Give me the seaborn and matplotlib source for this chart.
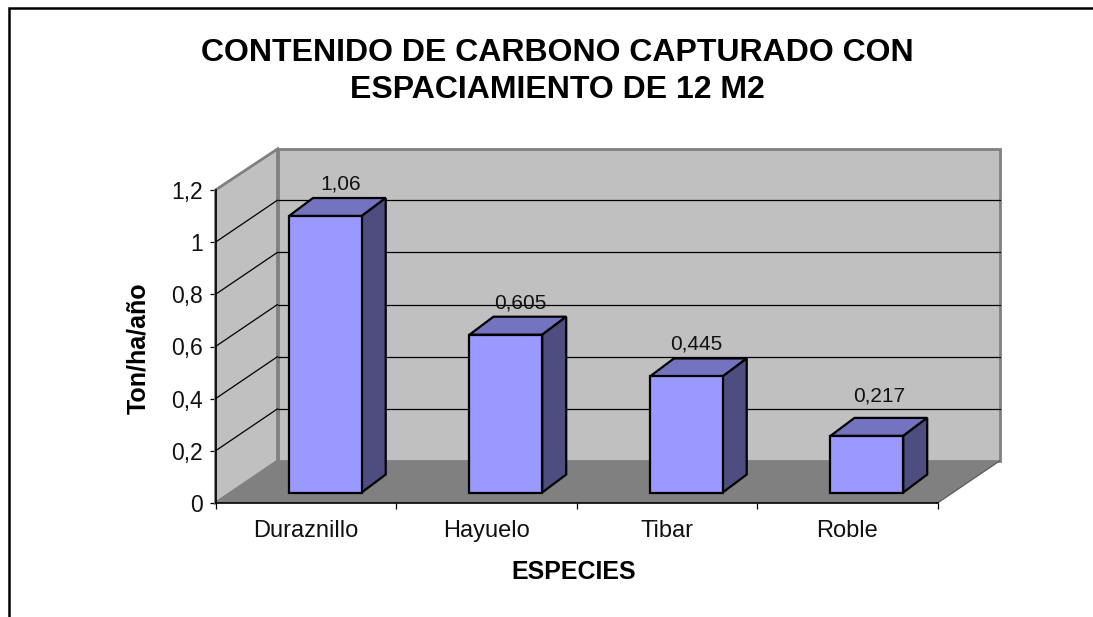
import matplotlib
matplotlib.use("Agg")
import matplotlib.pyplot as plt
from matplotlib.lines import Line2D
from matplotlib.patches import Polygon
from matplotlib.transforms import Affine2D, IdentityTransform
import seaborn as sns

# Data
species = ["Duraznillo", "Hayuelo", "Tibar", "Roble"]
carbon = [1.06, 0.605, 0.445, 0.217]
value_labels = ["1,06", "0,605", "0,445", "0,217"]
y_ticks = [0, 0.2, 0.4, 0.6, 0.8, 1.0, 1.2]
y_tick_labels = ["0", "0,2", "0,4", "0,6", "0,8", "1", "1,2"]
title = "CONTENIDO DE CARBONO CAPTURADO CON\nESPACIAMIENTO DE 12 M2"
x_label = "ESPECIES"
y_label = "Ton/ha/año"

# Style
W, H = 1093, 617
FACE, TOP, SIDE = "#9999FF", "#7373BF", "#4D4D80"
WALL, FLOOR = "#C0C0C0", "#808080"
DEPTH = (62, 42)            # chart depth, pixels
BAR_SHIFT = (19.6, 10.5)    # bar front face from front plane, pixels
BAR_DEPTH = (24, 18)        # bar depth, pixels
LABEL_SHIFT = [(15, 32), (14, 32), (10, 32), (12, 40)]

sns.set_style("white")
plt.rcParams["font.family"] = ["Liberation Sans", "DejaVu Sans"]

fig = plt.figure(figsize=(W / 100, H / 100), dpi=100, facecolor="white")
x0, x1, y_base, y_top = 215.5, 937.5, 503.0, 190.0
ax = fig.add_axes([x0 / W, 1 - y_base / H, (x1 - x0) / W, (y_base - y_top) / H])
ax.patch.set_visible(False)

sns.barplot(x=species, y=carbon, color=FACE, saturation=1, width=0.403,
            edgecolor="black", linewidth=1.6, ax=ax, zorder=5)
ax.set_xlim(-0.5, 3.5)
ax.set_ylim(0, 1.2)
fig.canvas.draw()

px = IdentityTransform()


def pt(x, y, dx=0, dy=0):
    a, b = ax.transData.transform((x, y))
    return (a + dx, b + dy)


def poly(points, fc, ec="none", lw=0, z=1):
    ax.add_patch(Polygon(points, closed=True, fc=fc, ec=ec, lw=lw, zorder=z,
                         transform=px, clip_on=False, joinstyle="miter"))


dx, dy = DEPTH
xl, xr, yb, yt = -0.5, 3.5, 0, 1.2
# Back wall, left wall, floor
poly([pt(xl, yb, dx, dy), pt(xr, yb, dx, dy), pt(xr, yt, dx, dy - 1), pt(xl, yt, dx, dy - 1)],
     WALL, FLOOR, 2, 1)
poly([pt(xl, yb), pt(xl, yb, dx, dy), pt(xl, yt, dx, dy - 1), pt(xl, yt)], WALL, FLOOR, 2, 1.1)
poly([pt(xl, yb), pt(xr, yb), pt(xr, yb, dx, dy), pt(xl, yb, dx, dy)], FLOOR, "none", 0, 1.2)
ax.add_line(Line2D(*zip(pt(xr, yb), pt(xr, yb, dx, dy)), color="#5a5a5a", lw=0.9,
                   transform=px, zorder=1.3, clip_on=False))

# Gridlines
for v in y_ticks[1:-1]:
    ax.add_line(Line2D(*zip(pt(xl, v, dx, dy), pt(xr, v, dx, dy)), color="black", lw=0.9,
                       transform=px, zorder=1.5, clip_on=False))
    ax.add_line(Line2D(*zip(pt(xl, v), pt(xl, v, dx, dy)), color="black", lw=0.9,
                       transform=px, zorder=1.5, clip_on=False))

# Bars: front faces from seaborn, shifted onto the floor; top and side faces added
shift = Affine2D().translate(*BAR_SHIFT)
sx, sy = BAR_SHIFT
bx, by = BAR_DEPTH
for i, patch in enumerate(ax.containers[0]):
    patch.set_transform(ax.transData + shift)
    patch.set_clip_on(False)
    a, h, w = patch.get_x(), patch.get_height(), patch.get_width()
    A = pt(a, h, sx, sy)
    B = pt(a + w, h, sx, sy)
    C = pt(a + w, 0, sx, sy)
    poly([A, B, (B[0] + bx, B[1] + by), (A[0] + bx, A[1] + by)], TOP, "black", 1.6, 4)
    poly([B, C, (C[0] + bx, C[1] + by), (B[0] + bx, B[1] + by)], SIDE, "black", 1.6, 4)
    lx, ly = LABEL_SHIFT[i]
    mid = pt(a + w / 2, h, sx, sy)
    ax.text(mid[0] + lx, mid[1] + ly, value_labels[i], transform=px, ha="center",
            va="center", fontsize=15, color="#111111", zorder=6, clip_on=False)

# Axes
sns.despine(ax=ax)
for s in ("left", "bottom"):
    ax.spines[s].set_color("black")
    ax.spines[s].set_linewidth(1.2)
    ax.spines[s].set_zorder(3)
ax.set_yticks(y_ticks, y_tick_labels)
ax.set_xticks([-0.5, 0.5, 1.5, 2.5, 3.5], [""] * 5)
ax.set_xticks(range(len(species)), species, minor=True)
ax.tick_params(axis="y", which="major", left=True, length=4.5, width=0.9, pad=4.5,
               labelsize=16.5, color="black", labelcolor="#111111")
ax.tick_params(axis="x", which="major", bottom=True, length=4, width=0.9, color="black")
ax.tick_params(axis="x", which="minor", bottom=False, length=0, pad=12.5,
               labelsize=17, labelcolor="#111111")
ax.set_xlabel("")
ax.set_ylabel("")

fig.text(557 / W, 1 - 71.5 / H, title, ha="center", va="center", fontsize=23,
         fontweight="bold", linespacing=1.31, color="black")
fig.text(574 / W, 1 - 572 / H, x_label, ha="center", va="center", fontsize=18,
         fontweight="bold", color="black")
fig.text(138 / W, 1 - 348 / H, y_label, rotation=90, ha="center", va="center",
         fontsize=18, fontweight="bold", color="black")

# Chart frame (cropped at right and bottom)
fig.add_artist(Line2D([9 / W, 9 / W, 1], [0, 1 - 8 / H, 1 - 8 / H], color="black",
                      lw=1.8, solid_joinstyle="miter", transform=fig.transFigure))

fig.savefig("out.png", dpi=100)
